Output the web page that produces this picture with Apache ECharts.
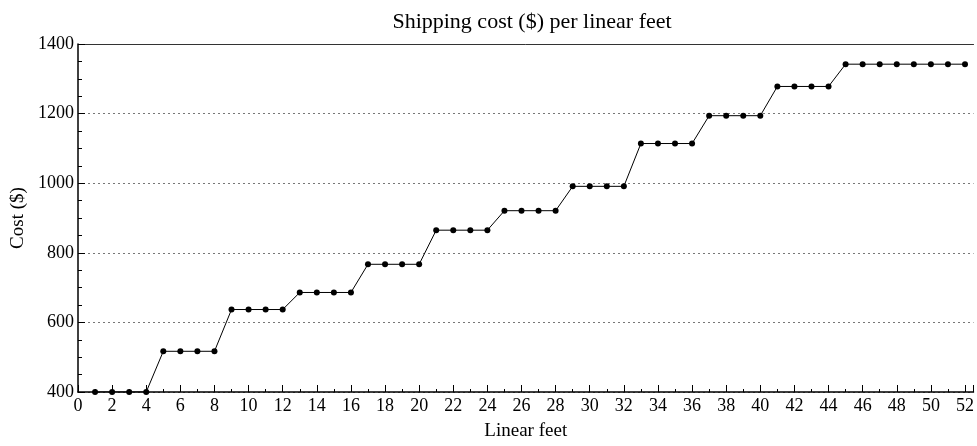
<!DOCTYPE html>
<html>
<head>
<meta charset="utf-8">
<script src="https://cdn.jsdelivr.net/npm/echarts@6/dist/echarts.min.js"></script>
<style>
  html, body { margin: 0; padding: 0; background: #fff; }
  #chart { width: 977px; height: 446px; }
</style>
</head>
<body>
<div id="chart"></div>
<script>
const feet = [1,2,3,4,5,6,7,8,9,10,11,12,13,14,15,16,17,18,19,20,21,22,23,24,25,26,
  27,28,29,30,31,32,33,34,35,36,37,38,39,40,41,42,43,44,45,46,47,48,49,50,51,52];
const cost = [400,400,400,400, 517,517,517,517, 637,637,637,637, 686,686,686,686,
  767,767,767,767, 865,865,865,865, 921,921,921,921, 991,991,991,991,
  1114,1114,1114,1114, 1194,1194,1194,1194, 1278,1278,1278,1278,
  1342,1342,1342,1342,1342,1342,1342,1342];

const font = 'Liberation Serif, Times New Roman, serif';
const chart = echarts.init(document.getElementById('chart'));

chart.setOption({
  animation: false,
  backgroundColor: '#fff',
  title: {
    text: 'Shipping cost ($) per linear feet',
    left: 527, textAlign: 'center', top: 6,
    textStyle: { fontFamily: font, fontSize: 22, fontWeight: 'normal', color: '#000' }
  },
  grid: { left: 78, right: 0, top: 44, bottom: 52 },
  xAxis: [{
    type: 'value',
    min: 0, max: 52.5, interval: 2,
    name: 'Linear feet', nameLocation: 'middle', nameGap: 30,
    nameTextStyle: { fontFamily: font, fontSize: 19, color: '#000' },
    axisLine: { lineStyle: { color: '#000', width: 1.5 } },
    axisTick: { inside: true, length: 7, lineStyle: { color: '#000' } },
    minorTick: { show: true, splitNumber: 2, length: 3, lineStyle: { color: '#000' } },
    axisLabel: { fontFamily: font, fontSize: 18, color: '#000', margin: 5, showMaxLabel: false },
    splitLine: { show: false }
  }, {
    type: 'value', position: 'top',
    min: 0, max: 52.5,
    axisLine: { show: true, lineStyle: { color: '#333', width: 1 } },
    axisTick: { show: false }, axisLabel: { show: false }, splitLine: { show: false }
  }],
  yAxis: {
    type: 'value',
    min: 400, max: 1400, interval: 200,
    name: 'Cost ($)', nameLocation: 'middle', nameGap: 50,
    nameTextStyle: { fontFamily: font, fontSize: 19, color: '#000' },
    axisLine: { show: true, lineStyle: { color: '#000', width: 1.5 } },
    axisTick: { inside: true, length: 7, lineStyle: { color: '#000' } },
    minorTick: { show: true, splitNumber: 4, length: 4, lineStyle: { color: '#000' } },
    axisLabel: { fontFamily: font, fontSize: 18, color: '#000', margin: 4, formatter: v => String(v) },
    splitLine: { show: true, lineStyle: { color: '#777', type: [2, 3], width: 1 } }
  },
  series: [{
    type: 'line',
    data: feet.map((f, i) => [f, cost[i]]),
    symbol: 'circle', symbolSize: 6,
    itemStyle: { color: '#000' },
    lineStyle: { color: '#000', width: 1 },
    clip: true
  }]
});
</script>
</body>
</html>
